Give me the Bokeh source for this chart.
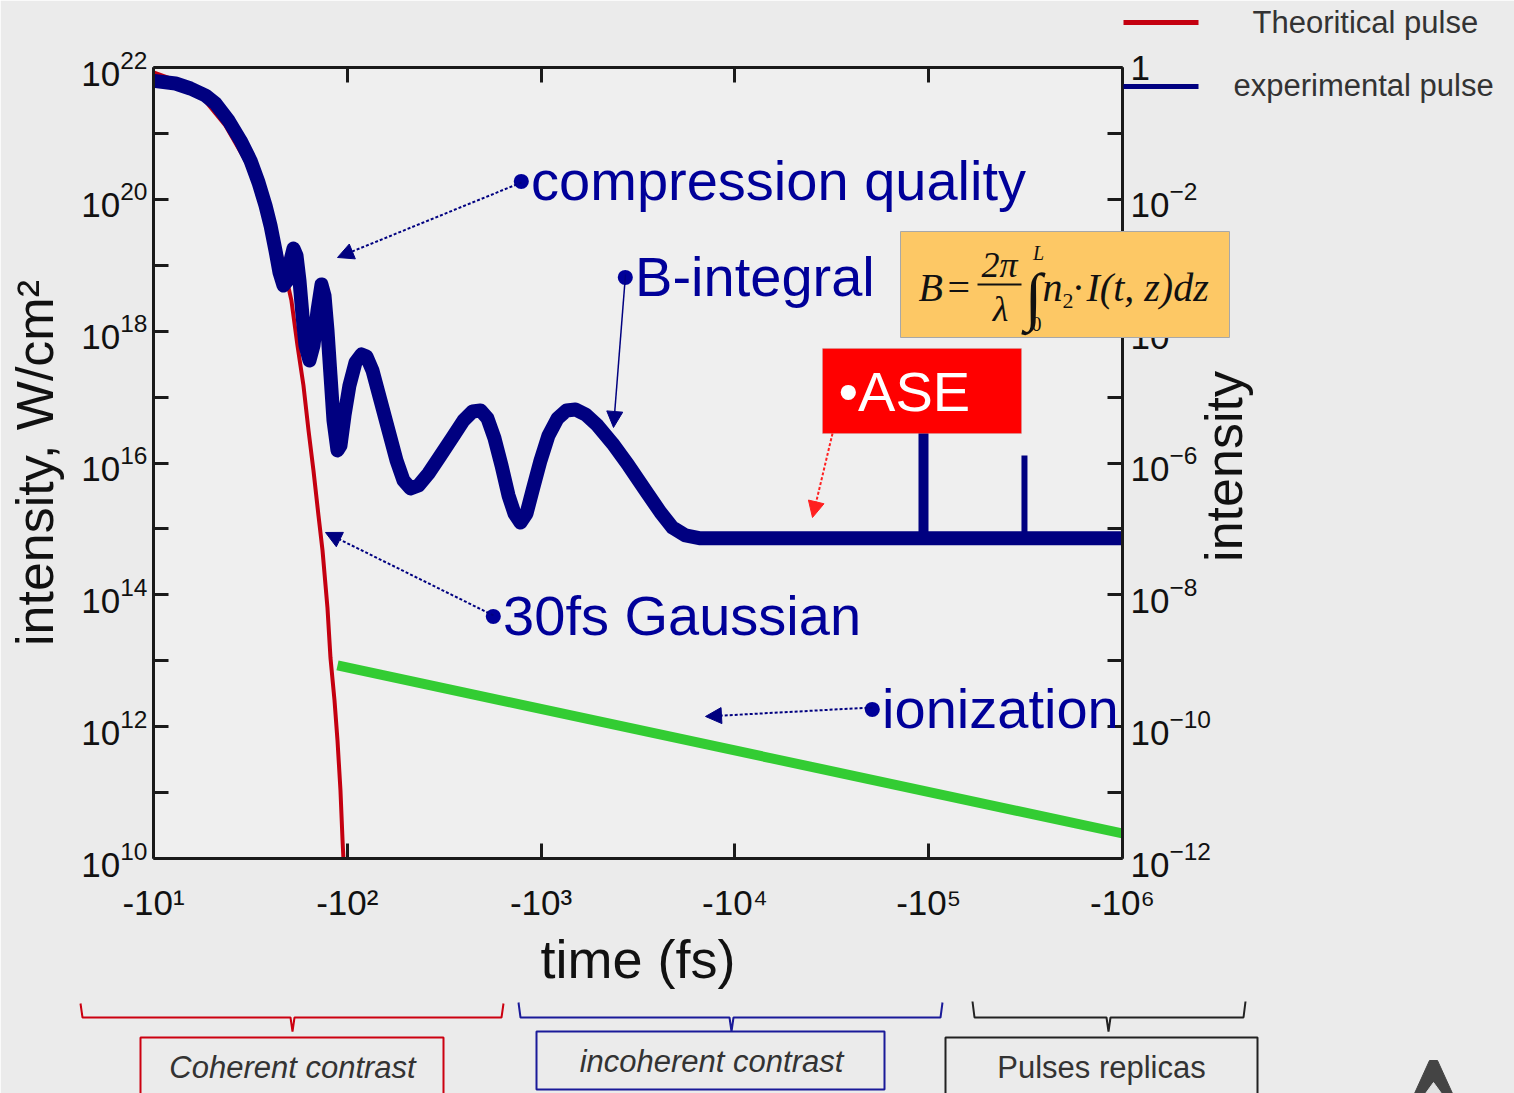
import math
from bokeh.plotting import figure
from bokeh.layouts import column
from bokeh.models import (Range1d, LogScale, LogAxis, FixedTicker, Label, Arrow,
                          NormalHead, BoxAnnotation)
from bokeh.embed import file_html
from bokeh.resources import INLINE

# ---------------- data ----------------
# the time axis shows -|t| ; values stored as |t| in fs, intensity in W/cm^2
theo_t = [10.0, 13.0, 17.5, 23.5, 29.8, 36.5, 42.6, 46.9, 51.5, 55.3, 59.4, 63.1,
          66.9, 71.0, 74.5, 79.0, 81.9, 85.9, 89.0, 92.2, 94.5, 95.5, 96.7]
theo_I = [8.4e21, 6.4e21, 3.8e21, 1.32e21, 3.9e20, 9.6e19, 3.1e19, 9.9e18, 2.9e18,
          6.1e17, 1.5e17, 3.1e16, 7.7e15, 1.6e15, 4.7e14, 6.4e13, 1.1e13, 2.5e12,
          6.2e11, 1.08e11, 1.9e10, 1.0e10, 4.6e9]

exp_t = [9.65, 12.99, 15.52, 18.55, 20.89, 24.38, 28.12, 31.66, 34.83, 37.84, 40.15,
         42.61, 44.68, 46.86, 49.13, 50.92, 52.77, 54.68, 56.66, 58.72, 60.85, 63.81,
         66.92, 70.19, 73.60, 76.27, 79.04, 81.91, 84.88, 88.99, 92.22, 96.73, 102.6,
         110.2, 118.4, 125.6, 134.9, 148.4, 163.2, 179.5, 195.0, 211.9, 233.1, 262.4,
         302.7, 349.0, 397.8, 442.7, 486.8, 529.0, 575.1, 624.9, 678.9, 729.0, 782.9,
         840.8, 902.9, 993.0, 1092.0, 1215.0, 1352.0, 1505.0, 1695.0, 1954.0, 2336.0,
         2825.0, 3456.0, 4131.0, 4765.0, 5561.0, 6645.0, 8429.0, 1.2e6]
exp_I = [6.35e21, 5.72e21, 4.80e21, 3.76e21, 2.84e21, 1.57e21, 7.81e20, 3.88e20,
         1.80e20, 8.07e19, 4.01e19, 1.67e19, 7.77e18, 4.93e18, 5.87e18, 1.18e19,
         1.80e19, 1.41e19, 5.87e18, 1.73e18, 6.07e17, 3.59e17, 6.07e17, 2.06e18,
         5.11e18, 3.48e18, 1.02e18, 2.13e17, 4.42e16, 1.55e16, 1.84e16, 5.26e16,
         1.50e17, 3.35e17, 4.43e17, 4.13e17, 2.53e17, 8.88e16, 3.11e16, 1.09e16,
         5.43e15, 4.11e15, 4.56e15, 6.93e15, 1.30e16, 2.44e16, 4.42e16, 6.05e16,
         6.26e16, 4.74e16, 2.36e16, 9.17e15, 3.22e15, 1.71e15, 1.25e15, 1.71e15,
         3.83e15, 1.09e16, 2.62e16, 4.74e16, 6.26e16, 6.48e16, 5.45e16, 3.71e16,
         1.98e16, 9.17e15, 3.83e15, 1.78e15, 1.05e15, 7.95e14, 7.2e14, 7.2e14, 7.2e14]

ase_level = 7.2e14
replica_t = [94000.0, 312000.0]
replica_I = [5.0e16, 1.3e16]
replica_w = [10, 6]

ion_t = [89.0, 1.0e6]
ion_I = [8.5e12, 2.4e10]

x_ticks = [1e1, 1e2, 1e3, 1e4, 1e5, 1e6]
x_tick_labels = ["-10\u00b9", "-10\u00b2", "-10\u00b3", "-10\u2074", "-10\u2075", "-10\u2076"]
y_ticks = [10.0 ** k for k in range(10, 23)]
y2_ticks = [10.0 ** k for k in range(-12, 1)]

legend_labels = ["Theoritical pulse", "experimental pulse"]
region_labels = ["Coherent contrast", "incoherent contrast", "Pulses replicas"]

FONT = "Liberation Sans"
SERIF = "Liberation Serif"
NAVY = "#000080"
TXT_BLUE = "#000099"
RED = "#c40010"
GREEN = "#33cc33"
AX = "#1a1a1a"
W, H = 1514, 1093

p = figure(width=W, height=H, x_axis_type="log", y_axis_type="log",
           x_range=Range1d(10, 1e6), y_range=Range1d(1e10, 1e22),
           output_backend="svg", toolbar_location=None,
           min_border_left=153, min_border_right=392, min_border_top=67,
           min_border_bottom=235,
           background_fill_color="#efefef", border_fill_color="#ebebeb")
p.outline_line_color = None
p.grid.visible = False


# page-pixel -> data position (used only to place in-frame annotations)
def T(px):
    return 10 ** (1 + (px - 153) / 193.8)


def I(py):
    return 10 ** (22 - (py - 67) / 65.92)


def style_axis(ax):
    ax.axis_line_width = 3
    ax.axis_line_color = AX
    ax.major_tick_line_width = 3
    ax.major_tick_line_color = AX
    ax.major_tick_in = 15
    ax.major_tick_out = 0
    ax.minor_tick_line_color = None
    ax.major_label_text_font = FONT
    ax.major_label_text_font_size = "35px"
    ax.major_label_text_color = "#111111"
    ax.axis_label_text_font = FONT
    ax.axis_label_text_font_style = "normal"
    ax.axis_label_text_color = "#111111"


xa = p.xaxis[0]
style_axis(xa)
xa.ticker = FixedTicker(ticks=x_ticks)
xa.major_label_overrides = dict(zip(x_ticks, x_tick_labels))
xa.axis_label = "time (fs)"
xa.axis_label_text_font_size = "54px"
xa.major_label_standoff = 24
xa.axis_label_standoff = 4

ya = p.yaxis[0]
style_axis(ya)
ya.ticker = FixedTicker(ticks=y_ticks)
ya.major_label_overrides = {t: "" for k, t in zip(range(10, 23), y_ticks) if k % 2}
ya.axis_label = "intensity, W/cm\u00b2"
ya.axis_label_text_font_size = "52px"
ya.major_label_standoff = 6
ya.axis_label_standoff = 14

ta = LogAxis(ticker=FixedTicker(ticks=x_ticks),
             major_label_overrides={t: "" for t in x_ticks})
style_axis(ta)
p.add_layout(ta, "above")

p.extra_y_ranges = {"rel": Range1d(1e-12, 1.0)}
p.extra_y_scales = {"rel": LogScale()}
ra = LogAxis(y_range_name="rel", ticker=FixedTicker(ticks=y2_ticks))
style_axis(ra)
ov = {t: "" for k, t in zip(range(-12, 1), y2_ticks) if k % 2}
ov[1.0] = "1"
ra.major_label_overrides = ov
ra.major_label_standoff = 8
p.add_layout(ra, "right")

# ---------------- series ----------------
p.line(theo_t, theo_I, line_color=RED, line_width=4, line_join="round")
p.line(exp_t, exp_I, line_color=NAVY, line_width=14, line_join="round")
for t, top, w in zip(replica_t, replica_I, replica_w):
    p.segment(x0=[t], y0=[ase_level], x1=[t], y1=[top], line_color=NAVY, line_width=w)
p.line(ion_t, ion_I, line_color=GREEN, line_width=10)


# ---------------- in-frame callouts ----------------
def note(text, px, py, size=56, color=TXT_BLUE):
    # py = wanted baseline; bokeh draws the alphabetic baseline ~0.37em lower
    p.add_layout(Label(x=T(px), y=I(py - 0.37 * size), text=text, text_font=FONT,
                       text_font_size=f"{size}px", text_color=color,
                       text_baseline="alphabetic", text_align="left"))


def pointer(x0, y0, x1, y1, color=NAVY, dash="3 2", width=2):
    p.add_layout(Arrow(x_start=T(x0), y_start=I(y0), x_end=T(x1), y_end=I(y1),
                       line_color=color, line_width=width, line_dash=dash,
                       end=NormalHead(size=16, fill_color=color, line_color=color,
                                      line_width=1)))


note("\u2022compression quality", 511, 201)
pointer(521, 182, 337, 257)
note("\u2022B-integral", 615, 297)
pointer(625, 274, 613, 427, dash="solid", width=1.5)
note("\u202230fs Gaussian", 483, 636)
pointer(493, 615, 325, 532)
note("\u2022ionization", 862, 729)
pointer(872, 707, 705, 716)

p.add_layout(BoxAnnotation(left=T(822), right=T(1021), top=I(348), bottom=I(433),
                           fill_color="#ff0000", fill_alpha=1.0,
                           line_color="#b5b5b5", line_width=1))
note("\u2022ASE", 838, 412, color="#ffffff")
pointer(832, 433, 812, 517, color="#ff2020")

# ---------------- transparent overlay in page pixels ----------------
# (legend, right-axis title, formula box and the brackets lie outside the frame)
q = figure(width=W, height=H, x_range=Range1d(0, W), y_range=Range1d(H, 0),
           x_axis_type=None, y_axis_type=None, title=None,
           output_backend="svg", toolbar_location=None, min_border=0,
           background_fill_alpha=0.0, border_fill_alpha=0.0)
q.outline_line_color = None
q.margin = (-H, 0, 0, 0)
for fig in (p, q):
    try:
        fig.frame_align = False
    except Exception:
        pass


def qtxt(text, px, py, size, font=FONT, style="normal", color="#111111",
         align="left", angle=0.0):
    if angle:
        x, y = px - 0.37 * size, py
    else:
        x, y = px, py - 0.37 * size
    q.add_layout(Label(x=x, y=y, text=text, text_font=font, text_font_size=f"{size}px",
                       text_font_style=style, text_color=color, text_align=align,
                       text_baseline="alphabetic", angle=angle))


# legend
q.segment(x0=[1123, 1123], y0=[22, 86], x1=[1198, 1198], y1=[22, 86],
          line_color=[RED, NAVY], line_width=5)
qtxt(legend_labels[0], 1252, 33, 31, color="#333333")
qtxt(legend_labels[1], 1233, 96, 31, color="#333333")

# right axis title
qtxt("intensity", 1243, 466, 52, align="center", angle=math.pi / 2)

# B-integral formula box (covers the right axis)
q.quad(left=[900], right=[1229], top=[231], bottom=[337], fill_color="#fdc865",
       line_color="#a8a8a8", line_width=1)
qtxt("B", 918, 302, 40, font=SERIF, style="italic")
qtxt("=", 947, 302, 40, font=SERIF)
qtxt("2\u03c0", 999, 278, 36, font=SERIF, style="italic", align="center")
q.segment(x0=[977], y0=[284], x1=[1021], y1=[284], line_color="#111111", line_width=2)
qtxt("\u03bb", 1000, 322, 36, font=SERIF, style="italic", align="center")
qtxt("\u222b", 1033, 320, 64, font=SERIF, align="center")
qtxt("L", 1038, 260, 20, font=SERIF, style="italic", align="center")
qtxt("0", 1036, 331, 20, font=SERIF, align="center")
qtxt("n", 1042, 302, 40, font=SERIF, style="italic")
qtxt("2", 1062, 309, 22, font=SERIF)
qtxt("\u00b7", 1078, 302, 40, font=SERIF, align="center")
qtxt("I(t, z)dz", 1086, 302, 40, font=SERIF, style="italic")


# brackets under the axis
def bracket(xl, xc, xr, ytop, yh, ytip, color):
    q.line([xl, xl + 2, xc - 2, xc, xc + 2, xr - 2, xr],
           [ytop, yh, yh, ytip, yh, yh, ytop], line_color=color, line_width=2)


bracket(80, 292, 503, 1003, 1017, 1031, "#cc0010")
bracket(518, 731, 942, 1002, 1017, 1031, "#1a1a99")
bracket(972, 1108, 1245, 1001, 1017, 1031, "#222222")

q.quad(left=[140, 536, 945], right=[443, 884, 1257], top=[1037, 1031, 1037],
       bottom=[1110, 1089, 1110], fill_alpha=0.0,
       line_color=["#cc0010", "#1a1a99", "#222222"], line_width=2)

qtxt(region_labels[0], 292, 1078, 31, style="italic", color="#333333", align="center")
qtxt(region_labels[1], 711, 1072, 31, style="italic", color="#333333", align="center")
qtxt(region_labels[2], 1101, 1078, 31, color="#333333", align="center")

# partly visible logo shape at the bottom-right corner
q.patch([1429, 1437, 1452, 1414], [1060, 1060, 1093, 1093], fill_color="#444444",
        line_color="#444444")
q.patch([1433, 1441, 1425], [1082, 1093, 1093], fill_color="#e2e2e2",
        line_color="#e2e2e2")

layout = column(p, q, spacing=0)
open("out.html", "w").write(file_html(layout, INLINE))
